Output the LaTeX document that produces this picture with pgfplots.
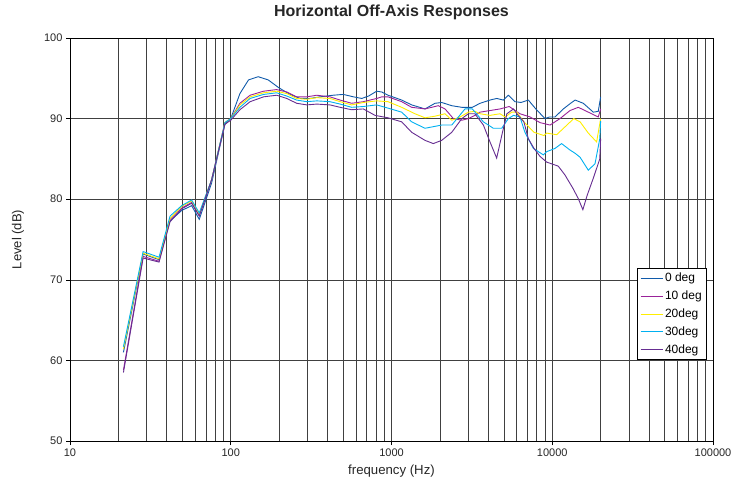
\documentclass[border=0pt]{standalone}
\usepackage{pgfplots}
\pgfplotsset{compat=1.18}
\usepackage{fontspec}
\setmainfont{Liberation Sans}
\definecolor{c0}{RGB}{16,90,170}
\definecolor{c10}{RGB}{153,34,153}
\definecolor{c20}{RGB}{255,238,0}
\definecolor{c30}{RGB}{0,176,240}
\definecolor{c40}{RGB}{102,45,145}
\begin{document}
\begin{tikzpicture}
\begin{axis}[
  scale only axis,
  width=643pt, height=403pt,
  xmode=log,
  xmin=10, xmax=100000, ymin=50, ymax=100,
  xtick={10,100,1000,10000,100000},
  xticklabels={10,100,1000,10000,100000},
  minor xtick={20,30,40,50,60,70,80,90,200,300,400,500,600,700,800,900,2000,3000,4000,5000,6000,7000,8000,9000,20000,30000,40000,50000,60000,70000,80000,90000},
  ytick={50,60,70,80,90,100},
  /pgf/number format/assume math mode=true,
  xmajorgrids, xminorgrids, ymajorgrids,
  major grid style={black!75, line width=0.6pt},
  minor grid style={black!75, line width=0.6pt},
  axis line style={black, line width=0.6pt},
  tick align=outside,
  major tick length=4pt, minor tick length=0pt,
  tick style={black, line width=0.6pt},
  xtick pos=bottom, ytick pos=left,
  ticklabel style={font=\fontsize{11}{13}\selectfont, text=black!85},
  title={Horizontal Off-Axis Responses},
  title style={font=\bfseries\fontsize{16}{19}\selectfont, text=black!85, at={(axis description cs:0.5,1.0496)}, anchor=center},
  xlabel={frequency (Hz)},
  xlabel style={font=\fontsize{13.2}{15}\selectfont, text=black!85, at={(axis description cs:0.5,-0.0744)}, anchor=center},
  ylabel={Level (dB)},
  ylabel style={font=\fontsize{13}{15}\selectfont, text=black!85, at={(axis description cs:-0.0809,0.5)}, anchor=center},
  legend style={at={(axis description cs:0.9907,0.4293)}, anchor=north east, draw=black, line width=0.6pt, font=\fontsize{12}{14}\selectfont, row sep=3.6pt, inner xsep=3pt, inner ysep=3pt, cells={anchor=west}},
  legend image code/.code={\draw[#1, line width=0.8pt] (0pt,0pt) -- (22pt,0pt);},
  every axis plot/.append style={line width=0.9pt},
]
\addplot[c0] table {
21.5 61.0
28.5 73.2
35.8 72.5
41.9 77.3
49.5 78.6
57.1 79.2
63.7 77.5
76 82.0
92 89.3
100 90.0
114 93.1
129 94.8
148 95.2
171 94.8
200 93.8
234 93.0
270 92.5
311 92.5
360 92.7
433 92.9
501 93.0
580 92.7
653 92.5
720 92.8
809 93.4
870 93.3
951 92.9
1050 92.6
1157 92.3
1335 91.7
1616 91.2
1865 91.9
2052 92.0
2371 91.6
2737 91.4
3180 91.4
3556 91.9
4100 92.3
4510 92.5
4960 92.3
5330 92.9
5865 92.1
6400 92.0
7100 92.3
7900 91.2
9010 90.0
9600 90.2
10400 90.2
11720 91.2
13000 91.9
13870 92.3
15600 91.9
18000 90.8
19330 90.9
20000 92.7
};
\addlegendentry{0 deg}
\addplot[c10] table {
21.5 58.8
28.5 72.9
35.8 72.3
41.9 77.5
49.5 78.9
57.1 79.6
63.7 78.0
76 82.4
92 89.5
100 90.0
114 91.9
132 92.9
160 93.4
193 93.6
223 93.3
257 92.7
297 92.7
343 92.9
414 92.7
479 92.3
565 91.9
668 92.1
809 92.5
870 92.7
951 92.7
1157 92.1
1335 91.4
1616 91.2
1954 91.6
2153 91.2
2426 90.0
2737 89.8
3006 90.0
3306 90.4
3556 90.8
4100 91.0
4732 91.2
5400 91.5
5865 91.0
6300 90.6
7280 90.2
8400 89.5
9690 89.2
11170 90.0
12890 91.0
14520 91.4
16760 90.8
19330 90.2
20000 91.2
};
\addlegendentry{10 deg}
\addplot[c20] table {
21.5 61.4
28.5 73.3
35.8 72.6
41.9 77.6
49.5 79.1
57.1 79.8
63.7 78.2
76 82.4
92 89.5
100 90.0
114 91.7
132 92.7
160 93.2
193 93.4
223 93.1
257 92.5
297 92.4
343 92.6
414 92.5
479 92.1
565 91.7
668 92.0
809 92.2
951 92.1
1157 91.4
1400 90.6
1616 90.1
1865 90.3
2153 90.6
2371 89.8
2670 90.2
3006 90.8
3306 90.9
3556 90.6
4100 90.4
4730 90.6
5090 90.2
5600 90.8
6030 90.8
6660 89.6
7700 88.3
8870 87.9
9240 88.2
10650 88.0
12040 89.0
13600 90.0
14900 89.6
16760 88.2
18880 87.1
20000 90.0
};
\addlegendentry{20deg}
\addplot[c30] table {
21.5 61.7
28.5 73.5
35.8 72.8
41.9 77.9
49.5 79.2
57.1 79.9
63.7 78.3
76 82.4
92 89.5
100 90.0
114 91.4
132 92.5
160 93.0
193 93.2
223 92.8
257 92.3
297 92.1
343 92.2
414 92.1
479 91.8
565 91.4
668 91.5
809 91.7
951 91.3
1157 90.8
1335 89.6
1616 88.8
2052 89.2
2371 89.2
2606 90.2
2865 91.2
3180 91.2
3728 89.6
4300 88.8
4850 88.8
5330 90.0
5740 90.4
6300 90.2
6760 88.3
7630 86.3
8800 85.5
9240 85.9
10400 86.3
11430 86.9
12890 86.1
13870 85.7
14900 85.2
16760 83.6
18450 84.4
19750 87.5
20000 89.7
};
\addlegendentry{30deg}
\addplot[c40] table {
21.5 58.5
28.5 72.7
35.8 72.2
41.9 77.2
49.5 78.8
57.1 79.5
63.7 77.9
76 82.4
92 89.3
100 89.8
114 91.1
132 92.1
160 92.7
193 92.9
223 92.5
257 91.9
297 91.7
343 91.8
414 91.7
479 91.4
565 91.1
668 91.2
790 90.4
951 90.1
1157 89.6
1335 88.3
1616 87.3
1820 86.9
2052 87.3
2371 88.3
2737 90.0
3006 90.6
3300 90.6
3730 89.2
4100 87.1
4510 85.1
4850 87.9
5220 90.6
5740 91.2
6130 90.4
6660 89.6
7100 87.5
7700 86.3
8400 85.3
9240 84.6
10900 84.1
12000 83.0
13400 81.4
14500 80.1
15500 78.7
16500 80.5
18000 82.6
19750 85.0
20000 87.5
};
\addlegendentry{40deg}
\end{axis}
\pgfresetboundingbox
\path (-70pt,-42pt) rectangle (666pt,441pt);
\end{tikzpicture}
\end{document}
